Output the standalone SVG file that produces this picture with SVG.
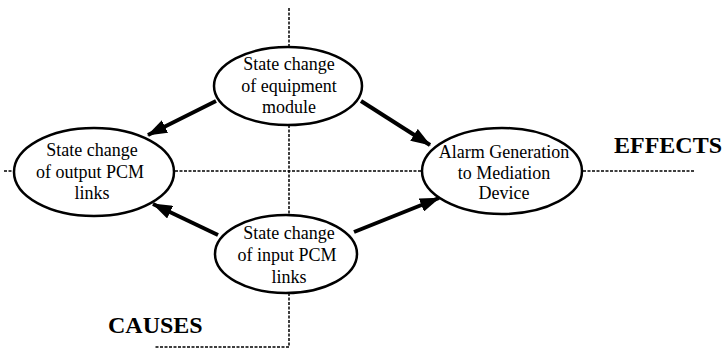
<svg xmlns="http://www.w3.org/2000/svg" width="725" height="350" viewBox="0 0 725 350">
<style>
.node{fill:#fff;stroke:#000;stroke-width:2.5}
.lbl{font-family:"Liberation Serif","Times New Roman",serif;font-size:18px;text-anchor:middle;fill:#000}
.big{font-family:"Liberation Serif","Times New Roman",serif;font-size:24px;font-weight:bold;fill:#000}
.dash{fill:none;stroke:#000;stroke-width:1.5;stroke-dasharray:3 1.5}
.arrow{fill:none;stroke:#000;stroke-width:4;marker-end:url(#ah)}
</style>
<defs>
<marker id="ah" markerUnits="userSpaceOnUse" markerWidth="20" markerHeight="14" refX="19" refY="7" orient="auto">
<path d="M0,0 L20,7 L0,14 Z" fill="#000"/>
</marker>
</defs>
<g id="boundaries">
<path class="dash" d="M289,8 V47"/>
<path class="dash" d="M289,125 V215"/>
<path class="dash" d="M289,293 V347 H154"/>
<path class="dash" d="M4,171 H14"/>
<path class="dash" d="M175,171 H422"/>
<path class="dash" d="M583,171 H694"/>
</g>
<g id="connectors">
<path class="arrow" d="M216,101 L148,135"/>
<path class="arrow" d="M361,101 L430,145"/>
<path class="arrow" d="M218,235 L153,204"/>
<path class="arrow" d="M354,232 L439,198"/>
</g>
<g id="n-equipment">
<ellipse class="node" cx="288" cy="86" rx="74" ry="39"/>
<text class="lbl" x="289" y="70">State change</text>
<text class="lbl" x="289" y="92">of equipment</text>
<text class="lbl" x="289" y="113">module</text>
</g>
<g id="n-output">
<ellipse class="node" cx="94" cy="172" rx="80" ry="44"/>
<text class="lbl" x="92" y="156">State change</text>
<text class="lbl" x="90" y="178">of output PCM</text>
<text class="lbl" x="92" y="199">links</text>
</g>
<g id="n-alarm">
<ellipse class="node" cx="502" cy="171" rx="80" ry="43"/>
<text class="lbl" x="504" y="158">Alarm Generation</text>
<text class="lbl" x="504" y="179">to Mediation</text>
<text class="lbl" x="504" y="199">Device</text>
</g>
<g id="n-input">
<ellipse class="node" cx="286" cy="254" rx="71" ry="39"/>
<text class="lbl" x="289" y="239">State change</text>
<text class="lbl" x="287" y="261">of input PCM</text>
<text class="lbl" x="289" y="283">links</text>
</g>
<g id="labels">
<text class="big" x="614" y="153">EFFECTS</text>
<text class="big" x="108" y="333">CAUSES</text>
</g>
</svg>
